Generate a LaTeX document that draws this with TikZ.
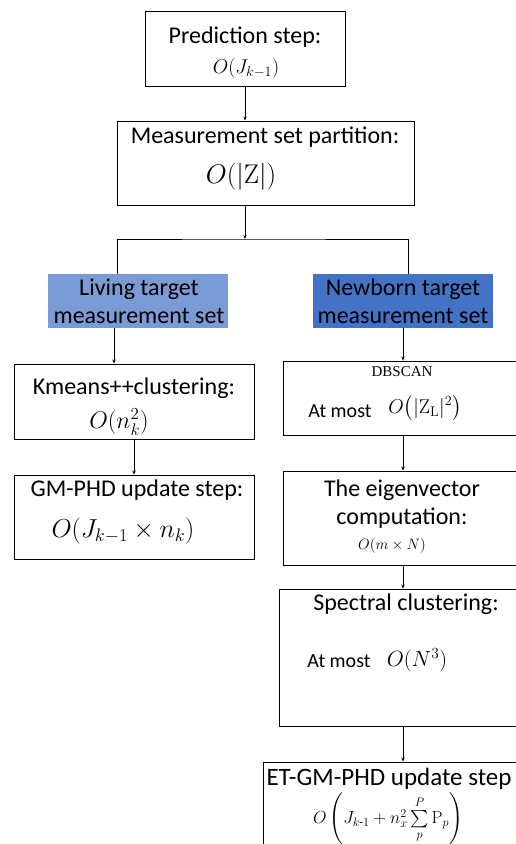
\RequirePackage{fix-cm}
\documentclass[tikz,border=0pt]{standalone}
\usepackage{amsmath}
\usepackage[no-math]{fontspec}
\setmainfont{Carlito}
\newfontfamily\timesfont{Liberation Serif}
\usetikzlibrary{arrows.meta,positioning,calc}

\definecolor{livingblue}{RGB}{122,155,214}
\definecolor{newbornblue}{RGB}{68,114,196}

\tikzset{
  stepbox/.style={draw,line width=0.9pt,inner sep=0pt},
  setbox/.style={inner sep=0pt,minimum width=180pt,minimum height=54pt},
  flow/.style={-{Stealth[length=4pt,width=3.5pt]},line width=0.8pt},
  txt/.style={inner sep=0pt,font=\fontsize{24}{28}\selectfont,align=center},
  smalltxt/.style={inner sep=0pt,font=\fontsize{20}{24}\selectfont},
}

\begin{document}
\begin{tikzpicture}[x=1pt,y=-1pt]
    \useasboundingbox (0,0) rectangle (516,844);
    \clip (0,0) rectangle (516,844);

    % Top of the chain
    \node[stepbox,minimum width=200pt,minimum height=75pt] (pred) at (245,48.5) {};
    \node[txt] (predtxt) at (245,37) {Prediction step:};
    \node[inner sep=0pt,font=\fontsize{20}{24}\selectfont] (predcost) at (246,68) {$O(J_{k-1})$};

    \node[stepbox,minimum width=297pt,minimum height=84pt] (part) at (265.5,163) {};
    \node[txt] (parttxt) at (265,137) {Measurement set partition:};
    \node[inner sep=0pt,font=\fontsize{27}{30}\selectfont] (partcost) at (241,177) {$O(|\mathrm{Z}|)$};

    % Measurement sets
    \node[setbox,fill=livingblue] (living) at (138,301) {};
    \node[txt] (livingtxt) at (139,301) {Living target\\measurement set};
    \node[setbox,fill=newbornblue] (newborn) at (403,301) {};
    \node[txt] (newborntxt) at (403,301) {Newborn target\\measurement set};

    % Living branch
    \node[stepbox,minimum width=240pt,minimum height=75pt] (kmeans) at (134,401.5) {};
    \node[txt] (kmeanstxt) at (134,388) {Kmeans++clustering:};
    \node[inner sep=0pt,font=\fontsize{24}{28}\selectfont] (kmeanscost) at (119,422) {$O(n_k^2)$};

    \node[stepbox,minimum width=240pt,minimum height=84pt] (gmphd) at (134,517) {};
    \node[txt] (gmphdtxt) at (137,490) {GM-PHD update step:};
    \node[inner sep=0pt,font=\fontsize{26}{30}\selectfont] (gmphdcost) at (123,531) {$O(J_{k-1}\times n_k)$};

    % Newborn branch
    \node[stepbox,minimum width=240pt,minimum height=74pt] (dbscan) at (403,398) {};
    \node[inner sep=0pt,font=\timesfont\fontsize{15}{18}\selectfont] (dbscantxt) at (402,372) {DBSCAN};
    \node[smalltxt] (dbscanat) at (340,411) {At most};
    \node[inner sep=0pt,font=\fontsize{20}{24}\selectfont] (dbscancost) at (425,408) {$O\bigl(|\mathrm{Z}_{\mathrm{L}}|^2\bigr)$};

    \node[stepbox,minimum width=240pt,minimum height=94pt] (eigen) at (403,518) {};
    \node[txt] (eigentxt) at (402,504) {The eigenvector\\computation:};
    \node[inner sep=0pt,font=\fontsize{15}{18}\selectfont] (eigencost) at (392,546) {$O(m\times N)$};

    \node[stepbox,minimum width=248pt,minimum height=137pt] (spectral) at (403,657.5) {};
    \node[txt] (spectraltxt) at (406,604) {Spectral clustering:};
    \node[smalltxt] (spectralat) at (339,661) {At most};
    \node[inner sep=0pt,font=\fontsize{22}{26}\selectfont] (spectralcost) at (417,660) {$O(N^3)$};

    \node[stepbox,minimum width=280pt,minimum height=120pt] (etgm) at (403,822) {};
    \node[inner sep=0pt,font=\fontsize{25}{30}\selectfont] (etgmtxt) at (389,779) {ET-GM-PHD update step};
    \node[inner sep=0pt,font=\fontsize{17.5}{21}\selectfont] (etgmcost) at (388,819)
        {$O\left(J_{k\text{-}1}+n_x^2\sum\limits_p^P \mathrm{P}_p\right)$};

    % Connectors
    \coordinate (split) at (245,239);
    \draw[flow] (pred.south) -- (pred.south |- part.north);
    \draw[flow] (pred.south |- part.south) -- (split);
    \draw[line width=0.8pt] ([xshift=-21pt]living.north) |- (split) -| ([xshift=5pt]newborn.north);
    \draw[flow] ([xshift=-24pt]living.south) -- ([xshift=-24pt]living.south |- kmeans.north);
    \draw[flow] (kmeans.south) -- (gmphd.north);
    \draw[flow] (newborn.south) -- (dbscan.north);
    \draw[flow] (dbscan.south) -- (eigen.north);
    \draw[flow] (eigen.south) -- (spectral.north);
    \draw[flow] (spectral.south) -- (etgm.north);
\end{tikzpicture}
\end{document}
